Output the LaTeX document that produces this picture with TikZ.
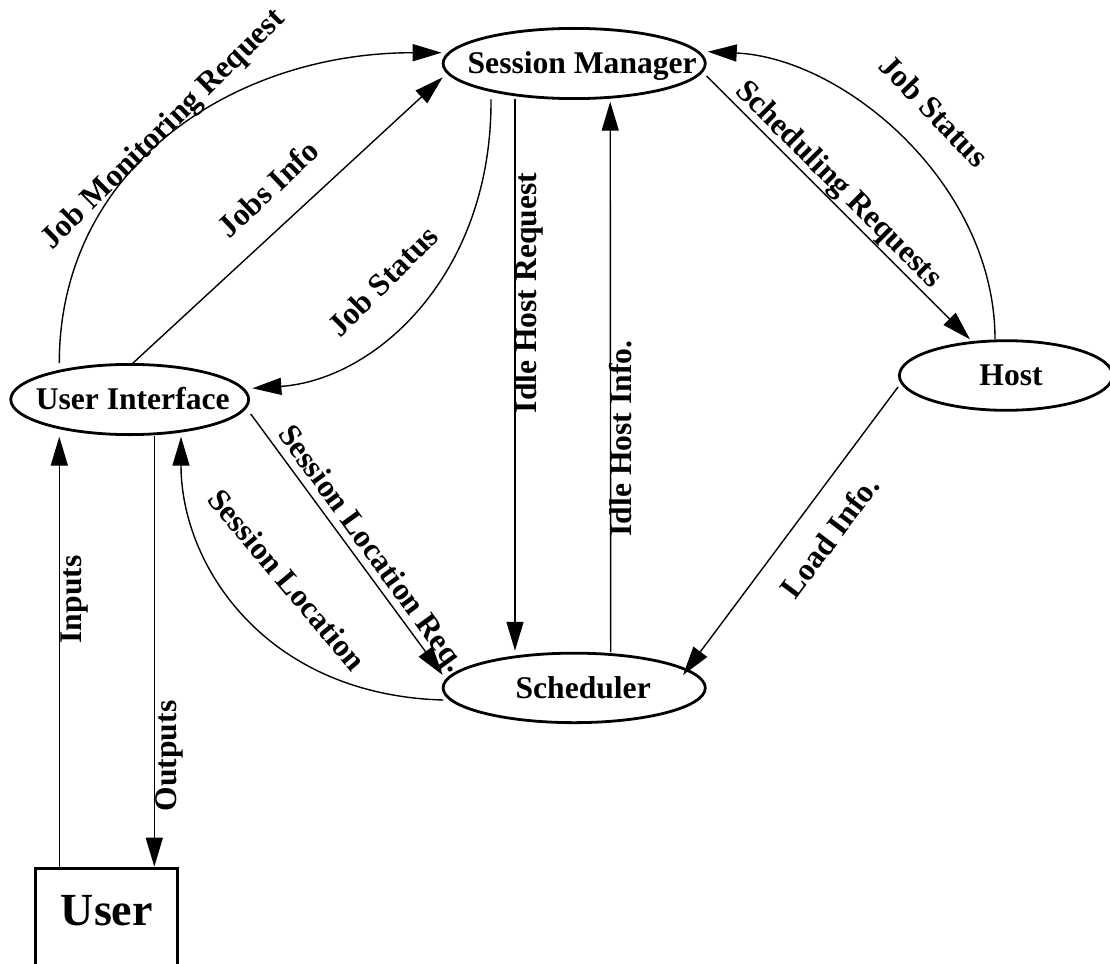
\documentclass[tikz,border=0pt]{standalone}
\usepackage{fontspec}
\setmainfont{Liberation Serif}
\usetikzlibrary{arrows.meta,calc,shapes.geometric}
\begin{document}
\begin{tikzpicture}[x=1pt,y=-1pt,
  lbl/.style={font=\fontsize{31.6pt}{36pt}\selectfont\bfseries, inner sep=0pt,
              text height=20.9pt, text depth=0pt},
  proc/.style={ellipse, draw, line width=2.8pt, inner sep=0pt},
  conn/.style={line width=1.4pt, -{Triangle[length=29pt,width=17pt]}},
  plain/.style={line width=1.4pt}]

\clip (0,0) rectangle (1110,963);
\fill[white] (0,0) rectangle (1110,963);

% processes
\node[proc, minimum width=262.2pt, minimum height=70.2pt,
      label={[lbl,xshift=8pt]center:Session Manager}] (sm) at (574.2,63.5) {};
\node[proc, minimum width=237.9pt, minimum height=70.2pt,
      label={[lbl,xshift=3pt]center:User Interface}] (ui) at (129.7,399.5) {};
\node[proc, minimum width=262.2pt, minimum height=69.5pt,
      label={[lbl,xshift=9pt]center:Scheduler}] (sched) at (574.2,687.9) {};
\node[proc, minimum width=213.2pt, minimum height=69.6pt,
      label={[lbl,xshift=5pt]center:Host}] (host) at (1006,375.5) {};

% external entity
\node[draw, line width=3pt, inner sep=0pt, minimum width=142pt, minimum height=113.6pt,
      font=\fontsize{46pt}{50pt}\selectfont\bfseries, text height=0pt, text depth=0pt]
      (user) at (106.8,925) {User};

% flows
\draw[conn] ($(ui.north)+(-70.4,0)$) .. controls +(0,-193) and +(-211.7,0) .. ($(sm.west)+(0,-10.8)$);
\draw[conn] ($(ui.north)+(3,0.3)$) -- ($(sm.west)+(1,13.8)$);
\draw[conn] ($(sm.south)+(-83.2,-0.7)$) .. controls +(1,176) and +(122.7,-8.3) .. ($(ui.east)+(2.3,-11.2)$);
\draw[conn] ($(sm.south)+(-59.2,-0.7)$) -- ($(sched.north)+(-59.2,-1)$);
\draw[conn] ($(sched.north)+(36.5,0.3)$) -- ($(sm.south)+(36,1.7)$);
\draw[conn] ($(sm.east)+(0,12.5)$) -- ($(host.north)+(-36,0)$);
\draw[conn] ($(host.north)+(-11,0)$) .. controls +(0,-154.3) and +(137.3,6.3) .. ($(sm.east)+(1,-11.8)$);
\draw[conn] ($(ui.east)+(0.7,14.5)$) -- ($(sched.west)+(1,-12.9)$);
\draw[conn] ($(sched.west)+(1.6,12.1)$) .. controls +(-178.3,-5) and +(0,128.3) .. ($(ui.south)+(51.3,0.7)$);
\draw[conn] ($(host.west)+(0,11.5)$) -- ($(sched.east)+(-23.7,-12.9)$);
\draw[conn] ($(user.north)+(-47.5,0)$) -- ($(ui.south)+(-70.4,0.7)$);
\draw[conn] ($(ui.south)+(24.6,0)$) -- ($(user.north)+(47.5,0)$);

% flow labels
\node[lbl, rotate=44.6] (tJMR) at (161.7,128.3) {Job Monitoring Request};
\node[lbl, rotate=43.5] (tJI)  at (268.3,189) {Jobs Info};
\node[lbl, rotate=45]   (tJSL) at (383,281) {Job Status};
\node[lbl, rotate=90]   (tIHR) at (526.5,293) {Idle Host Request};
\node[lbl, rotate=90]   (tIHI) at (621.5,438.5) {Idle Host Info.};
\node[lbl, rotate=-45]  (tSR)  at (840,183.3) {Scheduling Requests};
\node[lbl, rotate=-46]  (tJSR) at (934,111) {Job Status};
\node[lbl, rotate=-54]  (tSLR) at (372.5,548) {Session Location Req.};
\node[lbl, rotate=-50]  (tSL)  at (287,580) {Session Location};
\node[lbl, rotate=53]   (tLI)  at (830,537) {Load Info.};
\node[lbl, rotate=90]   (tIn)  at (71,599.5) {Inputs};
\node[lbl, rotate=90]   (tOut) at (166.5,756) {Outputs};
\end{tikzpicture}
\end{document}
